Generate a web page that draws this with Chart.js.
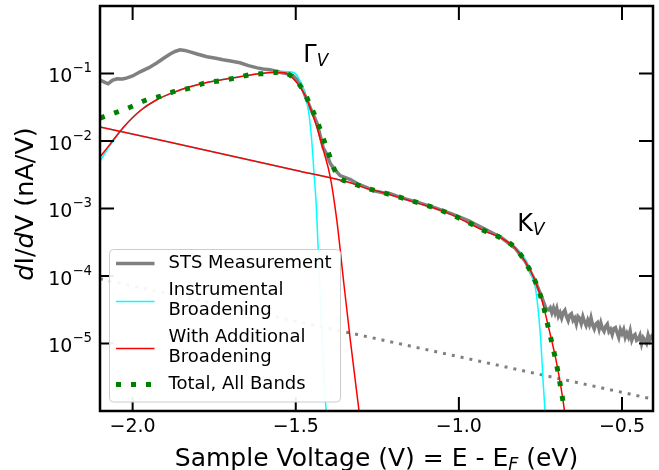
<!DOCTYPE html>
<html>
<head>
<meta charset="utf-8">
<script src="https://cdn.jsdelivr.net/npm/chart.js@4.4.1/dist/chart.umd.min.js"></script>
<style>
  html, body { margin: 0; padding: 0; background: #fff; }
  #wrap { width: 659px; height: 470px; }
</style>
</head>
<body>
<div id="wrap"><canvas id="stsChart" width="659" height="470"></canvas></div>
<script>
// --- data (sample voltage in V, dI/dV in nA/V) ---

// STS measurement
const stsV = [
  -2.100, -2.085, -2.075, -2.062, -2.048, -2.030, -2.017, -2.000, -1.977, -1.950,
  -1.925, -1.905, -1.885, -1.870, -1.855, -1.840, -1.824, -1.800, -1.772, -1.745,
  -1.723, -1.700, -1.671, -1.645, -1.618, -1.600, -1.579, -1.560, -1.539, -1.520,
  -1.508, -1.497, -1.487, -1.476, -1.465, -1.450, -1.434, -1.425, -1.416, -1.404,
  -1.394, -1.383, -1.364, -1.332, -1.312, -1.280, -1.263, -1.229, -1.210, -1.177,
  -1.126, -1.074, -1.022, -0.971, -0.919, -0.868, -0.827, -0.796, -0.765, -0.744,
  -0.733,
  -0.725, -0.720, -0.715, -0.710, -0.705, -0.700, -0.695, -0.690, -0.685, -0.680,
  -0.675, -0.670, -0.665, -0.660, -0.655, -0.650, -0.645, -0.640, -0.635, -0.630,
  -0.625, -0.620, -0.615, -0.610, -0.605, -0.600, -0.595, -0.590, -0.585, -0.580,
  -0.575, -0.570, -0.565, -0.560, -0.555, -0.550, -0.545, -0.540, -0.535, -0.530,
  -0.525, -0.520, -0.515, -0.510, -0.505, -0.500, -0.495, -0.490, -0.485, -0.480,
  -0.475, -0.470, -0.465, -0.460, -0.455, -0.450, -0.445, -0.440, -0.435, -0.430,
  -0.425, -0.420, -0.415, -0.410, -0.405, -0.400
];
const stsDidv = [
  0.080, 0.074, 0.0705, 0.079, 0.0835, 0.083, 0.0863, 0.092, 0.106, 0.122,
  0.144, 0.168, 0.195, 0.212, 0.224, 0.220, 0.209, 0.193, 0.177, 0.168,
  0.160, 0.153, 0.144, 0.131, 0.121, 0.117, 0.1135, 0.108, 0.102, 0.098,
  0.0925, 0.082, 0.0705, 0.054, 0.0394, 0.027, 0.018, 0.012, 0.008, 0.0062,
  4.62e-3, 3.9e-3, 3.07e-3, 2.69e-3, 2.34e-3, 2.02e-3, 1.84e-3, 1.70e-3, 1.66e-3, 1.45e-3,
  1.23e-3, 1.03e-3, 8.3e-4, 6.6e-4, 4.9e-4, 3.65e-4, 2.57e-4, 1.63e-4, 8.2e-5, 4.6e-5,
  3.3e-5,
  3.16e-5, 3.40e-5, 2.85e-5, 3.37e-5, 2.81e-5, 3.33e-5, 2.54e-5, 2.86e-5, 2.39e-5, 2.89e-5,
  3.11e-5, 2.49e-5, 2.18e-5, 2.64e-5, 2.77e-5, 2.21e-5, 2.39e-5, 1.95e-5, 2.52e-5, 2.37e-5,
  1.98e-5, 2.51e-5, 2.10e-5, 1.84e-5, 2.22e-5, 1.90e-5, 2.40e-5, 1.87e-5, 1.64e-5, 1.94e-5,
  2.04e-5, 1.63e-5, 2.02e-5, 1.65e-5, 1.51e-5, 1.79e-5, 1.93e-5, 1.50e-5, 1.62e-5, 1.36e-5,
  1.67e-5, 1.72e-5, 1.44e-5, 1.23e-5, 1.60e-5, 1.40e-5, 1.61e-5, 1.23e-5, 1.42e-5, 1.24e-5,
  1.54e-5, 1.12e-5, 1.29e-5, 1.36e-5, 1.11e-5, 1.15e-5, 1.32e-5, 9.9e-6, 1.22e-5, 1.12e-5,
  1.01e-5, 1.33e-5, 1.11e-5, 1.27e-5, 1.36e-5, 1.20e-5
];

// Gamma band, instrumental broadening only
const instGammaV = [
  -2.100, -2.069, -2.029, -1.977, -1.926, -1.875, -1.824, -1.773, -1.722, -1.671,
  -1.619, -1.568, -1.538, -1.507, -1.492, -1.476, -1.461, -1.451, -1.444, -1.437,
  -1.432, -1.422, -1.412, -1.407
];
const instGammaDidv = [
  5.0e-3, 8.6e-3, 0.0155, 0.028, 0.0408, 0.0524, 0.0635, 0.0736, 0.082, 0.090,
  0.099, 0.105, 0.107, 0.1035, 0.087, 0.059, 0.028, 0.0101, 3.3e-3, 1.1e-3,
  3.0e-4, 2.3e-5, 2.4e-6, 1e-6
];

// K band, instrumental broadening only
const instKV = [
  -2.100, -1.487, -1.332, -1.280, -1.229, -1.177, -1.126, -1.074, -1.022, -0.971,
  -0.919, -0.868, -0.827, -0.796, -0.780, -0.765, -0.750, -0.741, -0.736
];
const instKDidv = [
  0.0162, 3.57e-3, 2.4e-3, 1.97e-3, 1.70e-3, 1.43e-3, 1.2e-3, 1.01e-3, 8.1e-4, 6.1e-4,
  4.6e-4, 3.6e-4, 2.7e-4, 1.75e-4, 1.1e-4, 6.5e-5, 1.3e-5, 2.4e-6, 1e-6
];

// Gamma band, with additional broadening
const broadGammaV = [
  -2.100, -2.069, -2.029, -1.977, -1.926, -1.875, -1.824, -1.773, -1.722, -1.671,
  -1.619, -1.568, -1.538, -1.517, -1.497, -1.476, -1.456, -1.435, -1.415, -1.394,
  -1.374, -1.352, -1.332, -1.306
];
const broadGammaDidv = [
  5.8e-3, 9.0e-3, 0.0159, 0.0281, 0.0408, 0.0524, 0.0635, 0.0736, 0.0815, 0.0893,
  0.098, 0.1035, 0.1035, 0.0925, 0.0736, 0.0524, 0.0314, 0.0159, 7.2e-3, 2.9e-3,
  6.6e-4, 7.3e-5, 1.05e-5, 1e-6
];

// K band, with additional broadening
const broadKV = [
  -2.100, -1.487, -1.332, -1.280, -1.229, -1.177, -1.126, -1.074, -1.022, -0.971,
  -0.919, -0.868, -0.827, -0.796, -0.765, -0.744, -0.724, -0.703, -0.688, -0.676
];
const broadKDidv = [
  0.0162, 3.57e-3, 2.4e-3, 1.97e-3, 1.70e-3, 1.43e-3, 1.2e-3, 1.01e-3, 8.1e-4, 6.1e-4,
  4.6e-4, 3.6e-4, 2.6e-4, 1.63e-4, 8.2e-5, 4.1e-5, 1.65e-5, 5.9e-6, 2.4e-6, 1e-6
];

// total of all bands
const totalV = [
  -2.100, -2.004, -1.958, -1.917, -1.871, -1.825, -1.779, -1.732, -1.686, -1.640,
  -1.594, -1.548, -1.525, -1.507, -1.476, -1.456, -1.435, -1.415, -1.404, -1.374,
  -1.328, -1.282, -1.236, -1.177, -1.126, -1.074, -1.022, -0.971, -0.919, -0.868,
  -0.827, -0.796, -0.765, -0.744, -0.725, -0.704, -0.689, -0.676
];
const totalDidv = [
  0.0218, 0.0322, 0.0405, 0.0457, 0.0542, 0.0608, 0.0721, 0.078, 0.0855, 0.0957,
  0.100, 0.1045, 0.099, 0.086, 0.055, 0.034, 0.020, 0.0107, 7.6e-3, 3.2e-3,
  2.4e-3, 2.0e-3, 1.74e-3, 1.45e-3, 1.22e-3, 1.02e-3, 8.1e-4, 6.2e-4, 4.6e-4, 3.6e-4,
  2.6e-4, 1.6e-4, 8.1e-5, 4.1e-5, 1.65e-5, 5.9e-6, 2.4e-6, 1e-6
];

// background (dotted gray)
const bgV = [-2.100, -1.250, -0.405];
const bgDidv = [9.1e-5, 1.17e-5, 1.5e-6];

// axes
const xTicks = [-2.0, -1.5, -1.0, -0.5];
const xTickLabels = ['\u22122.0', '\u22121.5', '\u22121.0', '\u22120.5'];
const yTicks = [1e-1, 1e-2, 1e-3, 1e-4, 1e-5];
const yTickExps = ['\u22121', '\u22122', '\u22123', '\u22124', '\u22125'];

const legendLabels = [
  ['STS Measurement'],
  ['Instrumental', 'Broadening'],
  ['With Additional', 'Broadening'],
  ['Total, All Bands']
];

const FONT = '"DejaVu Sans"';
const pts = (xs, ys) => xs.map((x, i) => ({ x: x, y: ys[i] }));

function lineSet(label, xs, ys, color, width, dash, smooth) {
  return {
    label: label,
    data: pts(xs, ys),
    borderColor: color,
    backgroundColor: color,
    borderWidth: width,
    borderDash: dash,
    borderCapStyle: 'butt',
    pointRadius: 0,
    fill: false,
    clip: 0,
    tension: 0,
    cubicInterpolationMode: smooth ? 'monotone' : 'default'
  };
}

// first dataset is drawn on top
const datasets = [
  lineSet('Total, All Bands', totalV, totalDidv, '#008000', 5, [5, 10], true),
  lineSet('With Additional Broadening', broadGammaV, broadGammaDidv, '#ff0000', 1.5, [], true),
  lineSet('K with broadening', broadKV, broadKDidv, '#ff0000', 1.5, [], true),
  lineSet('Instrumental Broadening', instGammaV, instGammaDidv, '#00ffff', 1.5, [], true),
  lineSet('K instrumental', instKV, instKDidv, '#00ffff', 1.5, [], true),
  lineSet('background', bgV, bgDidv, '#808080', 3, [3, 6], false),
  lineSet('STS Measurement', stsV, stsDidv, '#808080', 3.5, [], false)
];
// which dataset each legend row shows
const legendIndex = [6, 3, 1, 0];

function drawRich(ctx, parts, x, y, align) {
  // parts: [text, font, dy]
  let w = 0;
  parts.forEach(p => { ctx.font = p[1]; w += ctx.measureText(p[0]).width; });
  let cx = align === 'center' ? x - w / 2 : (align === 'right' ? x - w : x);
  ctx.textAlign = 'left';
  parts.forEach(p => {
    ctx.font = p[1];
    ctx.fillText(p[0], cx, y + (p[2] || 0));
    cx += ctx.measureText(p[0]).width;
  });
}

const decorPlugin = {
  id: 'decor',
  afterDatasetsDraw(chart) {
    const { ctx, chartArea: a, scales: { x, y } } = chart;
    ctx.save();
    ctx.strokeStyle = '#000';
    ctx.fillStyle = '#000';

    // inward ticks on all four sides
    ctx.lineWidth = 2;
    ctx.beginPath();
    xTicks.forEach(v => {
      const px = x.getPixelForValue(v);
      ctx.moveTo(px, a.bottom); ctx.lineTo(px, a.bottom - 14);
      ctx.moveTo(px, a.top); ctx.lineTo(px, a.top + 14);
    });
    yTicks.forEach(v => {
      const py = y.getPixelForValue(v);
      ctx.moveTo(a.left, py); ctx.lineTo(a.left + 14, py);
      ctx.moveTo(a.right, py); ctx.lineTo(a.right - 14, py);
    });
    ctx.stroke();

    // frame
    ctx.lineWidth = 2.5;
    ctx.strokeRect(a.left, a.top, a.right - a.left, a.bottom - a.top);

    // y tick labels 10^-n
    ctx.textBaseline = 'alphabetic';
    yTicks.forEach((v, i) => {
      const py = y.getPixelForValue(v);
      drawRich(ctx, [
        ['10', '19px ' + FONT, 0],
        [yTickExps[i], '13.3px ' + FONT, -10]
      ], a.left - 8, py + 8.5, 'right');
    });

    // x axis title
    const mid = (a.left + a.right) / 2;
    drawRich(ctx, [
      ['Sample Voltage (V) = E - E', '25px ' + FONT, 0],
      ['F', 'italic 17.5px ' + FONT, 3.5],
      [' (eV)', '25px ' + FONT, 0]
    ], mid, 466, 'center');

    // y axis title
    ctx.save();
    ctx.translate(33, 204);
    ctx.rotate(-Math.PI / 2);
    drawRich(ctx, [
      ['d', 'italic 25.5px ' + FONT, 0],
      ['I/', '25.5px ' + FONT, 0],
      ['d', 'italic 25.5px ' + FONT, 0],
      ['V (nA/V)', '25.5px ' + FONT, 0]
    ], 0, 0, 'center');
    ctx.restore();

    // band labels
    [['\u0393', -1.477, 0.148], ['K', -0.821, 4.6e-4]].forEach(b => {
      drawRich(ctx, [
        [b[0], '24px ' + FONT, 0],
        ['V', 'italic 16.8px ' + FONT, 4]
      ], x.getPixelForValue(b[1]), y.getPixelForValue(b[2]), 'left');
    });

    // legend
    const box = { left: a.left + 9.5, top: a.top + 243.5, w: 231, h: 152.5 };
    ctx.beginPath();
    ctx.roundRect(box.left, box.top, box.w, box.h, 4);
    ctx.fillStyle = 'rgba(255,255,255,0.93)';
    ctx.fill();
    ctx.strokeStyle = '#cccccc';
    ctx.lineWidth = 1;
    ctx.stroke();

    let ty = box.top + 14;
    ctx.textBaseline = 'middle';
    ctx.font = '18px ' + FONT;
    legendLabels.forEach((lines, i) => {
      const ds = chart.data.datasets[legendIndex[i]];
      const ly = ty + (lines.length - 1) * 10 + (lines.length > 1 ? 1 : 0);
      ctx.save();
      ctx.strokeStyle = ds.borderColor;
      ctx.lineWidth = ds.borderWidth;
      ctx.setLineDash(ds.borderDash);
      ctx.lineCap = 'butt';
      ctx.beginPath();
      ctx.moveTo(box.left + 6.5, ly);
      ctx.lineTo(box.left + 45, ly);
      ctx.stroke();
      ctx.restore();
      ctx.fillStyle = '#000';
      ctx.textAlign = 'left';
      lines.forEach((t, j) => ctx.fillText(t, box.left + 59, ty + j * 20));
      ty += (lines.length - 1) * 20 + 27;
    });

    ctx.restore();
  }
};

new Chart(document.getElementById('stsChart'), {
  type: 'line',
  data: { datasets: datasets },
  options: {
    responsive: false,
    animation: false,
    devicePixelRatio: 1,
    layout: { padding: { top: 6, right: 6, left: 0, bottom: 0 } },
    plugins: { legend: { display: false }, tooltip: { enabled: false } },
    scales: {
      x: {
        type: 'linear',
        min: -2.1,
        max: -0.405,
        grid: { display: false, drawTicks: false },
        border: { display: false },
        afterBuildTicks: s => { s.ticks = xTicks.map(v => ({ value: v })); },
        afterFit: s => { s.height = 59; },
        ticks: {
          color: '#000',
          padding: 5,
          maxRotation: 0,
          font: { family: 'DejaVu Sans', size: 19 },
          callback: (v) => xTickLabels[xTicks.indexOf(v)]
        }
      },
      y: {
        type: 'logarithmic',
        min: 1e-6,
        max: 1,
        grid: { display: false, drawTicks: false },
        border: { display: false },
        afterBuildTicks: s => { s.ticks = yTicks.map(v => ({ value: v })); },
        afterFit: s => { s.width = 100; },
        ticks: { display: false }
      }
    }
  },
  plugins: [decorPlugin]
});
</script>
</body>
</html>
